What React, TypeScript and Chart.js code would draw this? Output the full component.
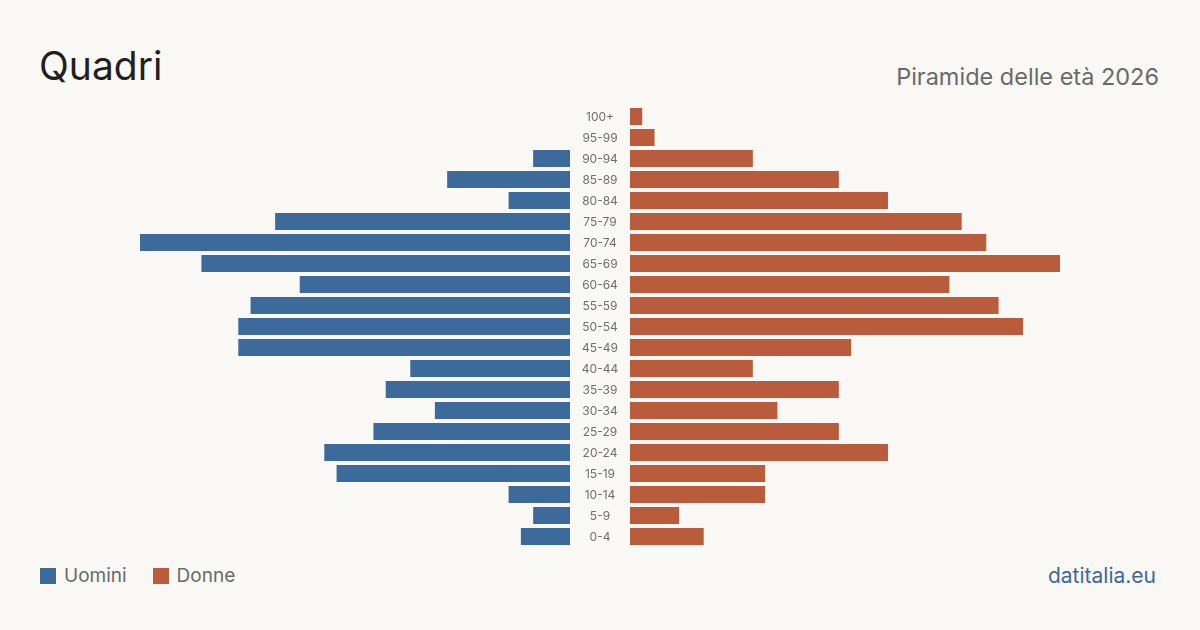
import React, { useEffect, useRef } from "react";
import { Chart, registerables } from "chart.js";

Chart.register(...registerables);

// Age classes, top to bottom
const ageGroups = [
  "100+", "95-99", "90-94", "85-89", "80-84", "75-79", "70-74", "65-69",
  "60-64", "55-59", "50-54", "45-49", "40-44", "35-39", "30-34", "25-29",
  "20-24", "15-19", "10-14", "5-9", "0-4",
];

// Men per age class
const men = [0, 0, 3, 10, 5, 24, 35, 30, 22, 26, 27, 27, 13, 15, 11, 16, 20, 19, 5, 3, 4];

// Women per age class
const women = [1, 2, 10, 17, 21, 27, 29, 35, 26, 30, 32, 18, 10, 17, 12, 17, 21, 11, 11, 4, 6];

const legendItems = ["Uomini", "Donne"];

const BLUE = "#3b6a9b";
const ORANGE = "#b95c3c";
const BG = "#f9f8f4";
const FONT = "Inter, 'Open Sans', sans-serif";

// Half-width of the central label column, in value units
const SIDE_MAX = 35;
const HALF_GAP = 2.44;

const centerLabels = {
  id: "centerLabels",
  afterDatasetsDraw(chart: any) {
    const { ctx, scales } = chart;
    const x = scales.x.getPixelForValue(0);
    ctx.save();
    ctx.font = `12px ${FONT}`;
    ctx.fillStyle = "#6f6f6f";
    ctx.textAlign = "center";
    ctx.textBaseline = "middle";
    ageGroups.forEach((g, i) => {
      ctx.fillText(g, x, scales.y.getPixelForValue(i) + 0.5);
    });
    ctx.restore();
  },
};

export default function App() {
  const ref = useRef<HTMLCanvasElement>(null);

  useEffect(() => {
    document.body.style.margin = "0";
    const chart = new Chart(ref.current!, {
      type: "bar",
      data: {
        labels: ageGroups,
        datasets: [
          {
            label: legendItems[0],
            data: men.map((v) => [-HALF_GAP - v, -HALF_GAP] as [number, number]),
            backgroundColor: BLUE,
            grouped: false,
            barPercentage: 0.81,
            categoryPercentage: 1,
          },
          {
            label: legendItems[1],
            data: women.map((v) => [HALF_GAP, HALF_GAP + v] as [number, number]),
            backgroundColor: ORANGE,
            grouped: false,
            barPercentage: 0.81,
            categoryPercentage: 1,
          },
        ],
      },
      options: {
        indexAxis: "y",
        animation: false,
        responsive: true,
        maintainAspectRatio: false,
        layout: { padding: 0 },
        scales: {
          x: {
            display: false,
            min: -(SIDE_MAX + HALF_GAP),
            max: SIDE_MAX + HALF_GAP,
          },
          y: { display: false },
        },
        plugins: {
          legend: { display: false },
          tooltip: { enabled: false },
        },
      },
      plugins: [centerLabels],
    });
    return () => chart.destroy();
  }, []);

  return (
    <div
      style={{
        position: "fixed",
        left: 0,
        top: 0,
        width: 1200,
        height: 630,
        background: BG,
        fontFamily: FONT,
        overflow: "hidden",
      }}
    >
      <div
        style={{
          position: "absolute",
          left: 39,
          top: 46,
          fontSize: 39,
          lineHeight: "39px",
          color: "#1f1f1f",
        }}
      >
        Quadri
      </div>
      <div
        style={{
          position: "absolute",
          right: 41,
          top: 65,
          fontSize: 23.5,
          lineHeight: "23px",
          color: "#6a6a6a",
        }}
      >
        Piramide delle età 2026
      </div>
      <div style={{ position: "absolute", left: 140, top: 106, width: 920, height: 441 }}>
        <canvas ref={ref} />
      </div>
      <div
        style={{
          position: "absolute",
          left: 40,
          top: 566,
          display: "flex",
          alignItems: "center",
          fontSize: 19,
          lineHeight: "20px",
          color: "#6a6a6a",
        }}
      >
        {legendItems.map((name, i) => (
          <div key={name} style={{ display: "flex", alignItems: "center", marginRight: 26 }}>
            <span
              style={{
                display: "inline-block",
                width: 16,
                height: 16,
                background: i === 0 ? BLUE : ORANGE,
                marginRight: 8,
              }}
            />
            {name}
          </div>
        ))}
      </div>
      <div
        style={{
          position: "absolute",
          right: 44,
          top: 565,
          fontSize: 21,
          lineHeight: "21px",
          color: BLUE,
        }}
      >
        datitalia.eu
      </div>
    </div>
  );
}
